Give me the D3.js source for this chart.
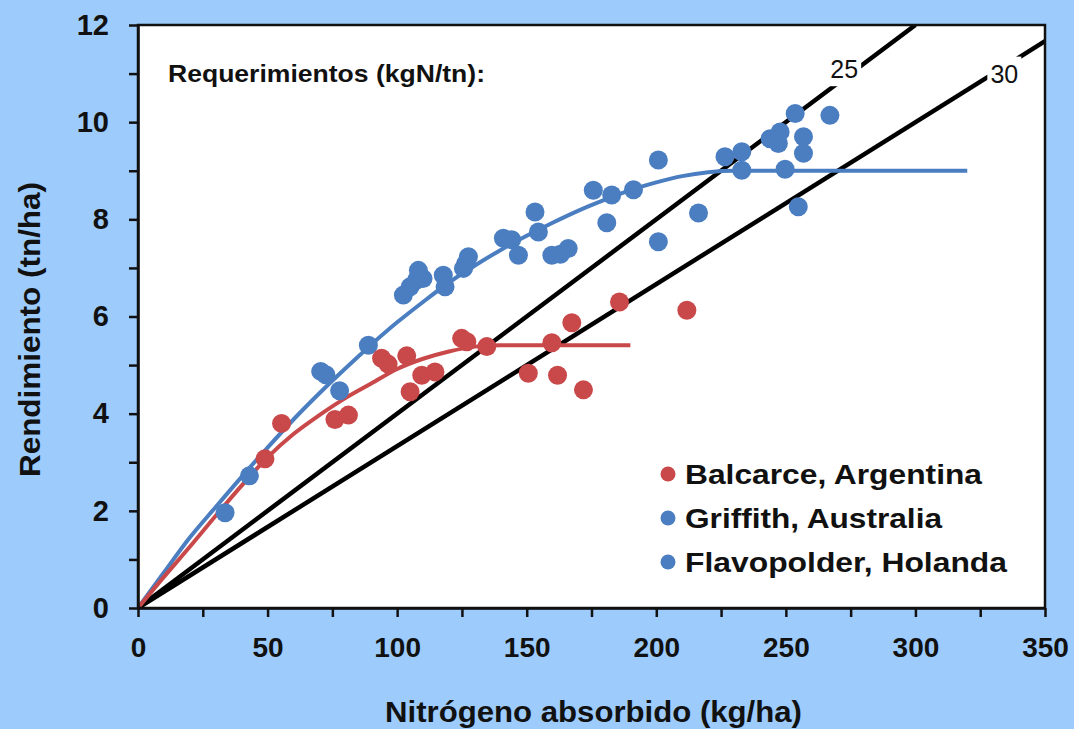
<!DOCTYPE html>
<html>
<head>
<meta charset="utf-8">
<script src="https://cdn.jsdelivr.net/npm/d3@7"></script>
<style>
  html, body { margin: 0; padding: 0; background: #9ccbfc; }
  svg { display: block; }
  text { font-family: "Liberation Sans", Arial, sans-serif; fill: #111; }
</style>
</head>
<body>
<svg id="chart" width="1074" height="729"></svg>
<script>
// ---------- data ----------
const xTicks = [0, 50, 100, 150, 200, 250, 300, 350];
const yTicks = [0, 2, 4, 6, 8, 10, 12];

// Balcarce, Argentina: [N absorbed, yield]
const balcarceN = [49, 55.4, 76, 81.2, 94, 96.5, 103.7, 105, 109.5, 114.6, 124.9, 126.9, 134.6, 150.6, 159.7, 161.9, 167.4, 171.9, 185.8, 211.8];
const balcarceY = [3.07, 3.80, 3.88, 3.97, 5.14, 5.02, 5.19, 4.45, 4.79, 4.86, 5.55, 5.48, 5.38, 4.83, 5.46, 4.79, 5.87, 4.49, 6.30, 6.13];

// Griffith, Australia + Flavopolder, Holanda (same colour)
const blueN = [33.6, 43, 70.5, 72.5, 77.8, 88.9, 102.4, 105, 107.5, 108.2, 110, 117.8, 118.5, 125.6, 126.5, 127.5,
               141, 144.2, 146.8, 153.2, 154.5, 159.7, 163, 166, 175.7, 180.9, 182.8, 191.2, 200.8, 200.8, 216.3,
               226.5, 233, 233, 243.9, 247.1, 247.8, 249.7, 253.6, 254.8, 256.8, 256.8, 267];
const blueY = [1.96, 2.72, 4.87, 4.80, 4.47, 5.41, 6.44, 6.61, 6.75, 6.95, 6.78, 6.85, 6.61, 6.99, 7.09, 7.23,
               7.61, 7.58, 7.26, 8.15, 7.74, 7.26, 7.28, 7.40, 8.60, 7.93, 8.50, 8.61, 9.22, 7.54, 8.13,
               9.29, 9.39, 9.01, 9.66, 9.56, 9.80, 9.03, 10.18, 8.26, 9.70, 9.36, 10.14];

// fitted curves
const fitRedN = [0, 10, 20, 30, 40, 50, 60, 70, 80, 90, 100, 110, 120, 130, 140, 190];
const fitRedY = [0, 0.64, 1.26, 1.9, 2.52, 3.1, 3.58, 3.97, 4.32, 4.62, 4.92, 5.13, 5.28, 5.38, 5.41, 5.41];
const fitBlueN = [0, 10, 20, 30, 40, 50, 60, 70, 80, 90, 100, 110, 120, 130, 140, 150, 160, 170, 180, 190, 200, 210, 220, 230, 320];
const fitBlueY = [0, 0.73, 1.45, 2.08, 2.7, 3.3, 3.88, 4.42, 4.93, 5.42, 5.88, 6.3, 6.7, 7.05, 7.37, 7.66, 7.93, 8.18, 8.4, 8.6, 8.76, 8.89, 8.97, 9.0, 9.0];

// requirement lines (kg N per tonne)
const requirements = [25, 30];
const reqLabelPos = [[272.5, 11.09], [334.3, 11.0]];

const legendLabels = ["Balcarce, Argentina", "Griffith, Australia", "Flavopolder, Holanda"];
const legendColors = ["#c9484a", "#4a7ec1", "#4a7ec1"];

// ---------- layout ----------
const svg = d3.select("#chart");
const L = 138, R = 1045, T = 25, B = 608;
const x = d3.scaleLinear().domain([0, 350]).range([L, R]);
const y = d3.scaleLinear().domain([0, 12]).range([B, T]);

const red = "#c9484a", blue = "#4a7ec1";

// plot background
svg.append("rect").attr("x", L).attr("y", T).attr("width", R - L).attr("height", B - T).attr("fill", "#fff");

// clip
svg.append("clipPath").attr("id", "clip").append("rect")
  .attr("x", L).attr("y", T).attr("width", R - L).attr("height", B - T);
const plot = svg.append("g").attr("clip-path", "url(#clip)");

// requirement lines
requirements.forEach(r => {
  const nEnd = Math.min(350, 12 * r);
  plot.append("line")
    .attr("x1", x(0)).attr("y1", y(0))
    .attr("x2", x(nEnd)).attr("y2", y(nEnd / r))
    .attr("stroke", "#000").attr("stroke-width", 4.5);
});

// labels on requirement lines with white backing
requirements.forEach((r, i) => {
  const [lx, ly] = reqLabelPos[i];
  const cx = x(lx), cy = y(ly);
  plot.append("rect").attr("x", cx - 17).attr("y", cy - 17).attr("width", 34).attr("height", 34).attr("fill", "#fff");
  plot.append("text").attr("x", cx).attr("y", cy + 9).attr("text-anchor", "middle")
    .attr("font-size", 25).text(r);
});

// fit lines
const line = d3.line().x(d => x(d[0])).y(d => y(d[1])).curve(d3.curveMonotoneX);
plot.append("path").datum(fitBlueN.map((n, i) => [n, fitBlueY[i]]))
  .attr("d", line).attr("fill", "none").attr("stroke", blue).attr("stroke-width", 4);
plot.append("path").datum(fitRedN.map((n, i) => [n, fitRedY[i]]))
  .attr("d", line).attr("fill", "none").attr("stroke", red).attr("stroke-width", 4);

// points
plot.selectAll(".bdot").data(blueN.map((n, i) => [n, blueY[i]])).enter().append("circle")
  .attr("cx", d => x(d[0])).attr("cy", d => y(d[1])).attr("r", 9.5).attr("fill", blue);
plot.selectAll(".rdot").data(balcarceN.map((n, i) => [n, balcarceY[i]])).enter().append("circle")
  .attr("cx", d => x(d[0])).attr("cy", d => y(d[1])).attr("r", 9.5).attr("fill", red);

// frame
svg.append("rect").attr("x", L).attr("y", T).attr("width", R - L).attr("height", B - T)
  .attr("fill", "none").attr("stroke", "#111").attr("stroke-width", 2.5);

// axes
const xAxis = d3.axisBottom(x).tickValues(d3.range(0, 351, 25)).tickSize(9).tickSizeOuter(0).tickPadding(20)
  .tickFormat(d => xTicks.includes(d) ? d : "");
const gx = svg.append("g").attr("transform", `translate(0,${B})`).call(xAxis);
gx.select(".domain").attr("stroke", "#111").attr("stroke-width", 2.5);
gx.selectAll(".tick line").attr("stroke", "#111").attr("stroke-width", 2.5);
gx.selectAll(".tick text").attr("font-size", 28).attr("font-weight", "bold").attr("fill", "#111")
  .attr("font-family", "Liberation Sans, Arial, sans-serif");

const yAxis = d3.axisLeft(y).tickValues(d3.range(0, 13, 1)).tickSize(9).tickSizeOuter(0).tickPadding(20)
  .tickFormat(d => yTicks.includes(d) ? d : "");
const gy = svg.append("g").attr("transform", `translate(${L},0)`).call(yAxis);
gy.select(".domain").attr("stroke", "#111").attr("stroke-width", 2.5);
gy.selectAll(".tick line").attr("stroke", "#111").attr("stroke-width", 2.5);
gy.selectAll(".tick text").attr("font-size", 29).attr("font-weight", "bold").attr("fill", "#111")
  .attr("font-family", "Liberation Sans, Arial, sans-serif");

// axis titles
svg.append("text").attr("x", 385).attr("y", 722)
  .attr("font-size", 29).attr("font-weight", "bold")
  .attr("textLength", 417).attr("lengthAdjust", "spacingAndGlyphs")
  .text("Nitrógeno absorbido (kg/ha)");
svg.append("text").attr("transform", "translate(40,477) rotate(-90)")
  .attr("font-size", 30).attr("font-weight", "bold")
  .attr("textLength", 295).attr("lengthAdjust", "spacingAndGlyphs")
  .text("Rendimiento (tn/ha)");

// requirement title
svg.append("text").attr("x", 168).attr("y", 82)
  .attr("font-size", 24).attr("font-weight", "bold")
  .attr("textLength", 317).attr("lengthAdjust", "spacingAndGlyphs")
  .text("Requerimientos (kgN/tn):");

// legend
const legendLen = [297, 257, 322];
legendLabels.forEach((lab, i) => {
  const cy = 474 + i * 44;
  svg.append("circle").attr("cx", 668).attr("cy", cy).attr("r", 7.5).attr("fill", legendColors[i]);
  svg.append("text").attr("x", 685).attr("y", cy + 10)
    .attr("font-size", 28).attr("font-weight", "bold")
    .attr("textLength", legendLen[i]).attr("lengthAdjust", "spacingAndGlyphs")
    .text(lab);
});
</script>
</body>
</html>
